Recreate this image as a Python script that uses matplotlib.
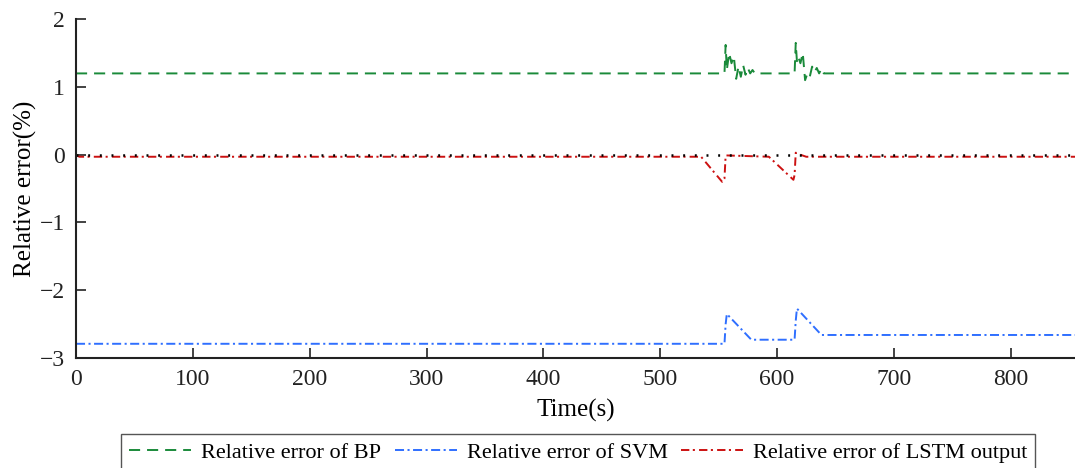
import matplotlib.pyplot as plt

plt.rcParams['font.family'] = ['Liberation Serif', 'DejaVu Serif']
plt.rcParams['lines.scale_dashes'] = False

# 数据
bp_t = [0, 555, 556, 557, 559, 561, 563, 565, 567, 569, 571, 573, 575, 577, 579, 581,
        615, 616, 617, 618, 620, 622, 624, 626, 628, 630, 632, 634, 636, 638, 640, 855]
bp_y = [1.2, 1.2, 1.62, 1.25, 1.5, 1.35, 1.45, 1.12, 1.3, 1.15, 1.32, 1.18, 1.28, 1.2, 1.25, 1.2,
        1.2, 1.65, 1.38, 1.45, 1.35, 1.5, 1.1, 1.2, 1.15, 1.3, 1.22, 1.28, 1.2, 1.27, 1.2, 1.2]

svm_t = [0, 555, 556, 557, 578, 615, 616, 617, 638, 855]
svm_y = [-2.79, -2.79, -2.5, -2.35, -2.73, -2.73, -2.45, -2.27, -2.66, -2.66]

lstm_t = [0, 3, 535, 553, 555, 556, 593, 614, 615, 616, 620, 625, 855]
lstm_y = [-0.01, -0.03, -0.03, -0.4, -0.35, -0.01, -0.03, -0.37, -0.3, 0.03, 0.0, -0.03, -0.03]

ref_t = [0, 855]
ref_y = [0, 0]

fig = plt.figure(figsize=(10.75, 4.68), dpi=100)
ax = fig.add_axes([0.0707, 0.235, 0.9293, 0.724])

ax.plot(bp_t, bp_y, color='#1a8a3a', lw=1.4, dashes=(8, 5), label='Relative error of BP')
ax.plot(svm_t, svm_y, color='#2f6fff', lw=1.4, dashes=(6.5, 2.5, 1.5, 2.5), label='Relative error of SVM')
ax.plot(lstm_t, lstm_y, color='#cc1111', lw=1.4, dashes=(6, 2.5, 1.5, 3), label='Relative error of LSTM output')
ax.plot(ref_t, ref_y, color='black', lw=1.8, dashes=(1.4, 7.0))

ax.set_xlim(0, 855)
ax.set_ylim(-3, 2)
ax.set_xticks(range(0, 900, 100))
ax.set_yticks([-3, -2, -1, 0, 1, 2])
ax.set_yticklabels(['\u22123', '\u22122', '\u22121', '0', '1', '2'])
ax.tick_params(direction='in', length=7, width=1.2, labelsize=17, pad=8, colors='#222222')
ax.spines['top'].set_visible(False)
ax.spines['right'].set_visible(False)
for s in ['left', 'bottom']:
    ax.spines[s].set_linewidth(1.5)
    ax.spines[s].set_color('#222222')

ax.set_xlabel('Time(s)', fontsize=18, labelpad=6)
ax.set_ylabel('Relative error(%)', fontsize=18, labelpad=2)

leg = fig.legend(loc='upper center', bbox_to_anchor=(0.538, 0.072), ncol=3, fontsize=16,
                 handlelength=2.8, handletextpad=0.45, columnspacing=0.6, borderaxespad=0,
                 fancybox=False, edgecolor='#555555', borderpad=0.35, framealpha=1)
leg.get_frame().set_linewidth(1.0)

fig.savefig('out.png', dpi=100)
